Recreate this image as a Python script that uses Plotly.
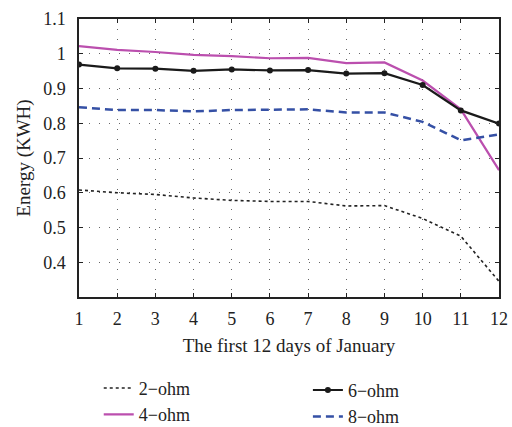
import plotly.graph_objects as go

days = list(range(1, 13))
ohm2 = [0.608, 0.600, 0.595, 0.585, 0.578, 0.575, 0.575, 0.562, 0.563, 0.526, 0.475, 0.345]
ohm4 = [1.022, 1.011, 1.005, 0.997, 0.993, 0.987, 0.988, 0.973, 0.975, 0.923, 0.840, 0.665]
ohm6 = [0.969, 0.958, 0.957, 0.951, 0.955, 0.952, 0.953, 0.943, 0.944, 0.910, 0.837, 0.799]
ohm8 = [0.846, 0.838, 0.838, 0.834, 0.838, 0.840, 0.840, 0.831, 0.831, 0.804, 0.751, 0.768]
names = ["2\u2212ohm", "4\u2212ohm", "6\u2212ohm", "8\u2212ohm"]
ytick_vals = [0.4, 0.5, 0.6, 0.7, 0.8, 0.9, 1.0, 1.1]
ytick_text = ["0.4", "0.5", "0.6", "0.7", "0.8", "0.9", "1", "1.1"]

FONT = "Liberation Serif"
TXT = "#222222"

fig = go.Figure()
fig.add_trace(go.Scatter(x=days, y=ohm2, name=names[0], mode="lines",
                         line=dict(color="#222222", width=1.6, dash="dot"), legend="legend"))
fig.add_trace(go.Scatter(x=days, y=ohm4, name=names[1], mode="lines",
                         line=dict(color="#bb4fae", width=2.2), legend="legend"))
fig.add_trace(go.Scatter(x=days, y=ohm6, name=names[2], mode="lines+markers",
                         line=dict(color="#1a1a1a", width=2.2),
                         marker=dict(size=6, color="#1a1a1a"), legend="legend2"))
fig.add_trace(go.Scatter(x=days, y=ohm8, name=names[3], mode="lines",
                         line=dict(color="#3550a5", width=2.5, dash="8px,5px"), legend="legend2"))

axis_common = dict(showline=True, linecolor="#222222", linewidth=1.5, mirror="ticks",
                   ticks="inside", ticklen=4, tickcolor="#222222",
                   showgrid=True, gridcolor="#666666", gridwidth=1, griddash="1px,9px",
                   zeroline=False, tickfont=dict(family=FONT, size=18, color=TXT))

fig.update_xaxes(range=[1, 12], tickvals=days, ticklabelstandoff=5,
                 title=dict(text="The first 12 days of January",
                            font=dict(family=FONT, size=19, color=TXT), standoff=10), **axis_common)
fig.update_yaxes(range=[0.3, 1.1], tickvals=ytick_vals, ticktext=ytick_text, ticklabelstandoff=8,
                 title=dict(text="Energy (KWH)", font=dict(family=FONT, size=19, color=TXT),
                            standoff=8), **axis_common)

leg_common = dict(font=dict(family=FONT, size=18, color=TXT), bgcolor="rgba(0,0,0,0)",
                  borderwidth=0, orientation="v", xanchor="left", yanchor="top",
                  tracegroupgap=0, itemwidth=30)
fig.update_layout(
    width=512, height=427,
    margin=dict(l=79, r=13, t=19, b=130, autoexpand=False),
    plot_bgcolor="white", paper_bgcolor="white",
    font=dict(family=FONT, size=18, color=TXT),
    legend=dict(x=0.047, y=-0.262, **leg_common),
    legend2=dict(x=0.545, y=-0.269, **leg_common),
)

fig.write_html("out.html")
